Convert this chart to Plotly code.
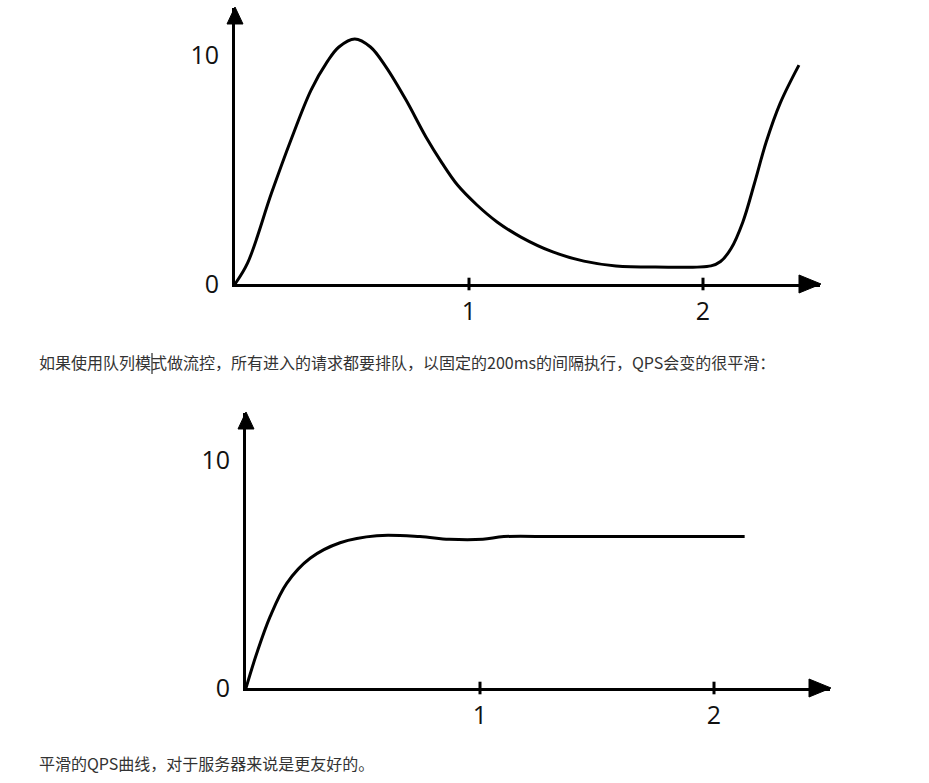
import plotly.graph_objects as go

W, H = 929, 783

# ---- data ----
top_x = [0, 0.054, 0.156, 0.239, 0.325, 0.393, 0.444, 0.512, 0.579, 0.645,
         0.731, 0.816, 0.885, 0.951, 1.034, 1.12, 1.222, 1.358, 1.491, 1.628, 1.797, 2.034,
         2.075, 2.12, 2.17, 2.22, 2.27, 2.33, 2.41]
top_y = [0, 0.92, 3.97, 6.29, 8.47, 9.69, 10.35, 10.70, 10.35, 9.48,
         8.03, 6.42, 5.28, 4.32, 3.45, 2.71, 2.05, 1.40, 1.00, 0.79, 0.74, 0.79,
         0.98, 1.55, 2.70, 4.40, 6.20, 7.90, 9.56]

bot_x = [0, 0.046, 0.103, 0.174, 0.274, 0.402, 0.559, 0.743, 0.868, 1.012, 1.102, 1.34, 2.131]
bot_y = [0, 1.52, 3.13, 4.59, 5.69, 6.37, 6.68, 6.64, 6.52, 6.52, 6.64, 6.64, 6.64]

x_tick_vals = [1, 2]
x_tick_text = ["1", "2"]
y_tick_vals = [0, 10]
y_tick_text = ["0", "10"]

text_top = "如果使用队列模式做流控，所有进入的请求都要排队，以固定的200ms的间隔执行，QPS会变的很平滑："
text_bottom = "平滑的QPS曲线，对于服务器来说是更友好的。"


def PX(x):
    return x / W


def PY(y):
    return 1 - y / H


fig = go.Figure()

line_style = dict(color="black", width=3, shape="spline", smoothing=1.0)

fig.add_trace(go.Scatter(x=top_x, y=top_y, mode="lines", line=line_style,
                         xaxis="x", yaxis="y", cliponaxis=False, hoverinfo="skip"))
fig.add_trace(go.Scatter(x=bot_x, y=bot_y, mode="lines", line=line_style,
                         xaxis="x2", yaxis="y2", cliponaxis=False, hoverinfo="skip"))

# tick marks crossing the x axes
tick_marker = dict(symbol="line-ns", size=9, line=dict(color="black", width=3))
fig.add_trace(go.Scatter(x=x_tick_vals, y=[0] * len(x_tick_vals), mode="markers",
                         marker=tick_marker, xaxis="x", yaxis="y", cliponaxis=False,
                         hoverinfo="skip"))
fig.add_trace(go.Scatter(x=x_tick_vals, y=[0] * len(x_tick_vals), mode="markers",
                         marker=tick_marker, xaxis="x2", yaxis="y2", cliponaxis=False,
                         hoverinfo="skip"))

tick_font = dict(family="Open Sans", size=25, color="#111")

common_x = dict(showgrid=False, zeroline=False, showline=True, linewidth=3, linecolor="black",
                tickvals=x_tick_vals, ticktext=x_tick_text, ticks="", tickfont=tick_font,
                ticklabelstandoff=3, fixedrange=True, automargin=False)
common_y = dict(showgrid=False, zeroline=False, showline=True, linewidth=3, linecolor="black",
                tickvals=y_tick_vals, ticktext=y_tick_text, ticks="", tickfont=tick_font,
                ticklabelstandoff=8, fixedrange=True, automargin=False)

# top panel: origin at (235, 284); bottom panel: origin at (246, 688)
fig.update_layout(
    xaxis=dict(domain=[PX(235), PX(820)], range=[0, (820 - 235) / 234], anchor="y", **common_x),
    yaxis=dict(domain=[PY(284), PY(8)], range=[0, (284 - 8) / 22.9], anchor="x", **common_y),
    xaxis2=dict(domain=[PX(246), PX(830)], range=[0, (830 - 246) / 234], anchor="y2", **common_x),
    yaxis2=dict(domain=[PY(688), PY(413)], range=[0, (688 - 413) / 22.8], anchor="x2", **common_y),
)


def tri(points):
    d = "M " + " L ".join(f"{PX(x):.5f},{PY(y):.5f}" for x, y in points) + " Z"
    return dict(type="path", xref="paper", yref="paper", path=d,
                fillcolor="black", line=dict(color="black", width=1))


shapes = [
    tri([(235, 7), (227, 24), (243, 24)]),
    tri([(821, 284), (799, 275), (799, 293)]),
    tri([(246, 412), (238, 429), (254, 429)]),
    tri([(831, 688), (809, 679), (809, 697)]),
    # text caret
    dict(type="line", xref="paper", yref="paper", x0=PX(152), x1=PX(152), y0=PY(353), y1=PY(374),
         line=dict(color="black", width=1)),
]

annotations = [
    dict(text=text_top, xref="paper", yref="paper", x=PX(37), y=PY(362), xanchor="left",
         yanchor="middle", showarrow=False,
         font=dict(family="Noto Sans CJK SC", size=16, color="#333")),
    dict(text=text_bottom, xref="paper", yref="paper", x=PX(37), y=PY(763), xanchor="left",
         yanchor="middle", showarrow=False,
         font=dict(family="Noto Sans CJK SC", size=16, color="#333")),
]

fig.update_layout(width=W, height=H, autosize=False, margin=dict(l=0, r=0, t=0, b=0),
                  paper_bgcolor="white", plot_bgcolor="white", showlegend=False,
                  shapes=shapes, annotations=annotations)

fig.write_html("out.html", config={"displayModeBar": False})
